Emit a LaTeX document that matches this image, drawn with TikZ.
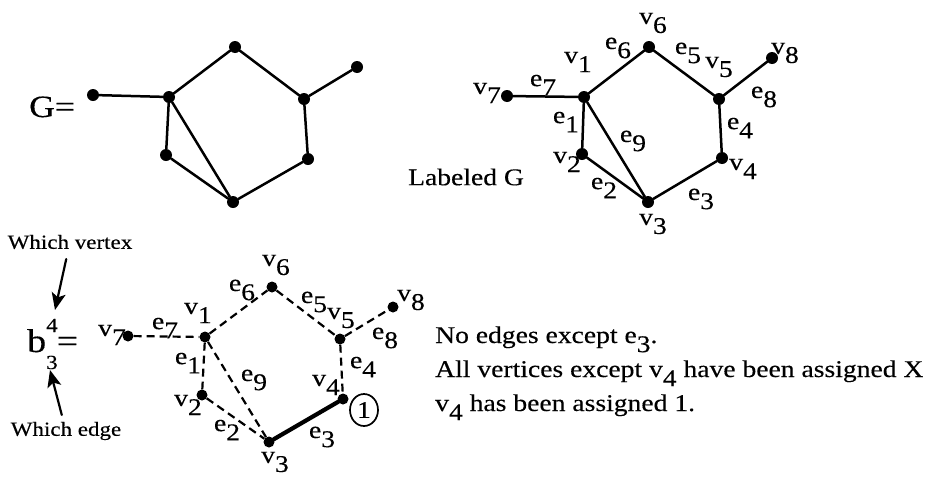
\documentclass[tikz,border=0pt]{standalone}
\usepackage{fontspec}
\setmainfont{Liberation Serif}[FakeStretch=1.15, FakeBold=0.3]
\usetikzlibrary{arrows.meta,shapes.geometric}

% letter with a lowered, full-size index
\newcommand{\sbs}[2]{#1\raisebox{-0.38em}{#2}}

\begin{document}
\begin{tikzpicture}[x=1pt, y=-1pt, line cap=round, line join=round,
  font=\fontsize{24}{29}\selectfont,
  dot/.style={circle, fill, inner sep=0pt, minimum size=12pt},
  edge/.style={line width=2.5pt},
  dedge/.style={line width=2.2pt, dash pattern=on 8pt off 5pt, line cap=butt},
  lab/.style={inner sep=0pt},
  note/.style={inner sep=0pt, anchor=base west},
  arr/.style={line width=2.2pt, -{Stealth[length=17pt, width=14pt, inset=4pt]}}]

  \useasboundingbox (0,0) rectangle (941,477);

  % ===== G =====
  \node[note, font=\fontsize{31}{34}\selectfont] (Gname) at (29,117) {G=};

  \node[dot] (g1) at (169,97) {};
  \node[dot] (g2) at (166,155) {};
  \node[dot] (g3) at (233,202) {};
  \node[dot] (g4) at (308,159) {};
  \node[dot] (g5) at (304,99) {};
  \node[dot] (g6) at (235,47) {};
  \node[dot] (g7) at (93,95) {};
  \node[dot] (g8) at (357,67) {};

  \draw[edge] (g7) -- (g1) -- (g6) -- (g5) -- (g4) -- (g3) -- (g2) -- (g1) -- (g3);
  \draw[edge] (g5) -- (g8);

  % ===== Labeled G =====
  \node[lab] (Lname) at (466,177) {Labeled G};

  \node[dot] (l1) at (584,97) {};
  \node[dot] (l2) at (582,154) {};
  \node[dot] (l3) at (648,202) {};
  \node[dot] (l4) at (722,158) {};
  \node[dot] (l5) at (719,99) {};
  \node[dot] (l6) at (649,47) {};
  \node[dot] (l7) at (507,96) {};
  \node[dot] (l8) at (772,58) {};

  \draw[edge] (l7) -- (l1) -- (l6) -- (l5) -- (l4) -- (l3) -- (l2) -- (l1) -- (l3);
  \draw[edge] (l5) -- (l8);

  \node[lab] (lv1) at (578,62) {\sbs{v}{1}};
  \node[lab] (lv2) at (567,162) {\sbs{v}{2}};
  \node[lab] (lv3) at (653,224) {\sbs{v}{3}};
  \node[lab] (lv4) at (743,169) {\sbs{v}{4}};
  \node[lab] (lv5) at (719,67) {\sbs{v}{5}};
  \node[lab] (lv6) at (653,23) {\sbs{v}{6}};
  \node[lab] (lv7) at (487,93) {\sbs{v}{7}};
  \node[lab] (lv8) at (785,53) {\sbs{v}{8}};
  \node[lab] (le1) at (566,122) {\sbs{e}{1}};
  \node[lab] (le2) at (604,188) {\sbs{e}{2}};
  \node[lab] (le3) at (701,199) {\sbs{e}{3}};
  \node[lab] (le4) at (740,128) {\sbs{e}{4}};
  \node[lab] (le5) at (688,53) {\sbs{e}{5}};
  \node[lab] (le6) at (618,48) {\sbs{e}{6}};
  \node[lab] (le7) at (543,85) {\sbs{e}{7}};
  \node[lab] (le8) at (764,97) {\sbs{e}{8}};
  \node[lab] (le9) at (633,141) {\sbs{e}{9}};

  % ===== b^4_3 =====
  \node[note] (bname) at (27,352) {\fontsize{33}{36}\selectfont b\raisebox{-17pt}{\makebox[0pt][l]{\fontsize{20}{20}\selectfont 3}}\raisebox{20pt}{\fontsize{20}{20}\selectfont 4}\kern-1pt=};

  \node[lab, font=\fontsize{20}{23}\selectfont] (whichv) at (70,242) {Which vertex};
  \node[lab, font=\fontsize{20}{23}\selectfont] (whiche) at (66,431) {Which edge};
  \coordinate (vtip) at (55,310);
  \coordinate (etip) at (50,370);
  \draw[arr, shorten <=10pt] (whichv) -- (vtip);
  \draw[arr, shorten <=7pt] (whiche) -- (etip);

  \node[dot, minimum size=11pt] (b1) at (205,337) {};
  \node[dot, minimum size=11pt] (b2) at (202,395) {};
  \node[dot, minimum size=11pt] (b3) at (269,442) {};
  \node[dot, minimum size=11pt] (b4) at (343,399) {};
  \node[dot, minimum size=11pt] (b5) at (340,339) {};
  \node[dot, minimum size=11pt] (b6) at (272,287) {};
  \node[dot, minimum size=11pt] (b7) at (128,336) {};
  \node[dot, minimum size=11pt] (b8) at (393,307) {};

  \draw[dedge] (b7) -- (b1);
  \draw[dedge] (b1) -- (b6);
  \draw[dedge] (b6) -- (b5);
  \draw[dedge] (b5) -- (b8);
  \draw[dedge] (b5) -- (b4);
  \draw[dedge] (b1) -- (b2);
  \draw[dedge] (b2) -- (b3);
  \draw[dedge] (b1) -- (b3);
  \draw[line width=4.2pt] (b3) -- (b4);

  \node[draw, ellipse, line width=1.7pt, minimum width=28pt, minimum height=32pt, inner sep=0pt,
    font=\fontsize{24}{24}\selectfont] (one) at (364,410) {1};

  \node[lab] (bv1) at (198,313) {\sbs{v}{1}};
  \node[lab] (bv2) at (188,405) {\sbs{v}{2}};
  \node[lab] (bv3) at (275,462) {\sbs{v}{3}};
  \node[lab] (bv4) at (326,385) {\sbs{v}{4}};
  \node[lab] (bv5) at (341,318) {\sbs{v}{5}};
  \node[lab] (bv6) at (276,265) {\sbs{v}{6}};
  \node[lab] (bv7) at (112,335) {\sbs{v}{7}};
  \node[lab] (bv8) at (411,300) {\sbs{v}{8}};
  \node[lab] (be1) at (188,363) {\sbs{e}{1}};
  \node[lab] (be2) at (227,430) {\sbs{e}{2}};
  \node[lab] (be3) at (322,437) {\sbs{e}{3}};
  \node[lab] (be4) at (363,367) {\sbs{e}{4}};
  \node[lab] (be5) at (314,302) {\sbs{e}{5}};
  \node[lab] (be6) at (242,290) {\sbs{e}{6}};
  \node[lab] (be7) at (165,328) {\sbs{e}{7}};
  \node[lab] (be8) at (385,338) {\sbs{e}{8}};
  \node[lab] (be9) at (254,380) {\sbs{e}{9}};

  % ===== notes =====
  \node[note] (note1) at (435,343) {No edges except \sbs{e}{3}.};
  \node[note] (note2) at (435,377) {All vertices except \sbs{v}{4} have been assigned X};
  \node[note] (note3) at (435,411) {\sbs{v}{4} has been assigned 1.};

\end{tikzpicture}
\end{document}
